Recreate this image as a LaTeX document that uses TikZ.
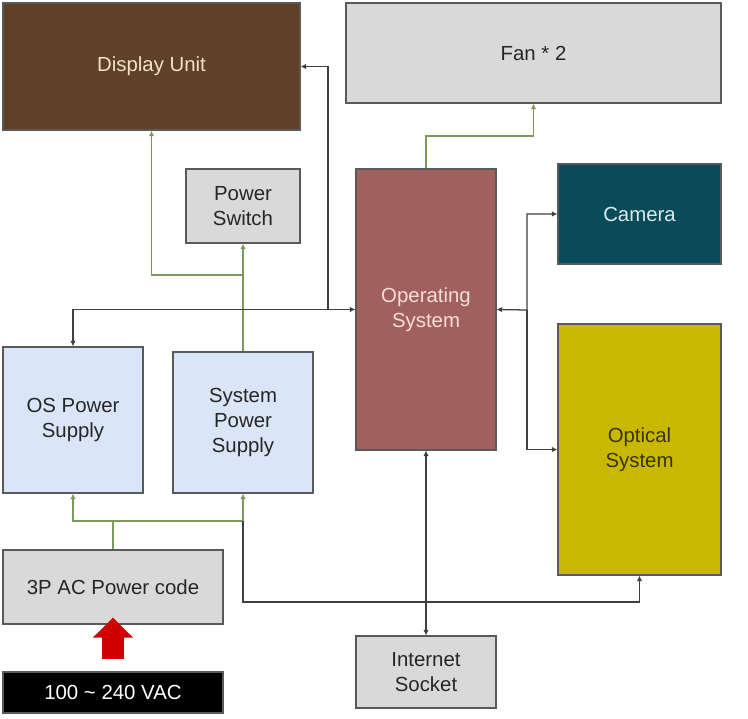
\documentclass[tikz,border=0pt]{standalone}
\usepackage{fontspec}
\setmainfont{Liberation Sans}
\usetikzlibrary{arrows.meta, positioning, calc}
\definecolor{displaybrown}{HTML}{5E4126}
\definecolor{displaytext}{HTML}{F1E2C8}
\definecolor{boxgray}{HTML}{D9D9D9}
\definecolor{edgegray}{HTML}{5A5A5A}
\definecolor{osred}{HTML}{A0605D}
\definecolor{ostext}{HTML}{FADCD8}
\definecolor{camteal}{HTML}{0B4A58}
\definecolor{camtext}{HTML}{D6ECF0}
\definecolor{opticyellow}{HTML}{C9B800}
\definecolor{optictext}{HTML}{3A3500}
\definecolor{psublue}{HTML}{DAE6F8}
\definecolor{powergreen}{HTML}{7C9A5C}
\definecolor{signalgray}{HTML}{3F3F3F}
\definecolor{inputred}{HTML}{D00000}

\tikzset{
  block/.style={draw=edgegray, line width=0.8pt, align=center, inner sep=2pt,
    font=\fontsize{14.5}{17.8}\selectfont, text=black!85},
  graybox/.style={block, fill=boxgray},
  psubox/.style={block, fill=psublue},
  powerline/.style={draw=powergreen, line width=0.8pt},
  power/.style={powerline, -{Latex[length=4pt,width=4pt]}},
  sigline/.style={draw=signalgray, line width=0.9pt},
  sigend/.style={sigline, -{Latex[length=4pt,width=4pt]}},
  sigboth/.style={sigline, {Latex[length=4pt,width=4pt]}-{Latex[length=4pt,width=4pt]}},
}

\begin{document}
\begin{tikzpicture}[x=0.025cm, y=-0.025cm]
  \useasboundingbox (0,0) rectangle (748,718);
  % Bloques superiores
  \node[block, fill=displaybrown, text=displaytext, minimum width=7.425cm, minimum height=3.175cm] (disp) at (151.5,66.5) {Display Unit};
  \node[graybox, minimum width=9.375cm, minimum height=2.5cm] (fan) at (533.5,53) {Fan * 2};
  \node[graybox, minimum width=2.85cm, minimum height=1.85cm] (pswitch) at (243,206) {Power\\Switch};
  % Sistema central y periféricos
  \node[block, fill=osred, text=ostext, minimum width=3.5cm, minimum height=7.025cm] (os) at (426,309.5) {Operating\\System};
  \node[block, fill=camteal, text=camtext, minimum width=4.075cm, minimum height=2.5cm] (cam) at (639.5,214) {Camera};
  \node[block, fill=opticyellow, text=optictext, minimum width=4.075cm, minimum height=6.275cm] (optical) at (639.5,449.5) {Optical\\System};
  \node[graybox, minimum width=3.5cm, minimum height=1.8cm] (inet) at (426,672) {Internet\\Socket};
  % Fuentes de alimentación
  \node[psubox, minimum width=3.5cm, minimum height=3.65cm] (ospsu) at (73,420) {OS Power\\Supply};
  \node[psubox, minimum width=3.5cm, minimum height=3.525cm] (syspsu) at (243,422.5) {System\\Power\\Supply};
  \node[graybox, minimum width=5.5cm, minimum height=1.85cm] (accord) at (113,587) {3P AC Power code};
  \node[block, fill=black, text=white, minimum width=5.5cm, minimum height=1.025cm] (vac) at (113,692.5) {100 \textasciitilde{} 240 VAC};

  % Puntos de unión
  \coordinate (jsw) at (243,275);
  \coordinate (jfan) at (480,136);
  \coordinate (jac) at (113,521);
  \coordinate (jdisp) at (328,310);
  \coordinate (jcam) at (527,310);
  \coordinate (jopt) at (243,602);

  % Líneas de alimentación
  \draw[power] (syspsu.north) -- (pswitch.south);
  \draw[power] (jsw) -| (disp.south);
  \draw[power] (os.north) |- (jfan) -| (fan.south);
  \draw[powerline] (accord.north) -- (jac);
  \draw[power] (jac) -| (ospsu.south);
  \draw[power] (jac) -| (syspsu.south);

  % Líneas de señal
  \draw[sigboth] (os.west) -| (ospsu.north);
  \draw[sigend] (jdisp) |- (disp.east);
  \draw[sigboth] (os.east) -- (jcam) |- (cam.west);
  \draw[sigend] (jcam) |- (optical.west);
  \draw[sigboth] (os.south) -- (inet.north);
  \draw[sigend] (syspsu.south |- jac) -- (jopt) -| (optical.south);

  % Entrada de red
  \draw[inputred, line width=0.525cm, -{Triangle[length=0.5cm, width=0.975cm]}] ([yshift=0.3cm]vac.north) -- ([yshift=0.175cm]accord.south);
\end{tikzpicture}
\end{document}
